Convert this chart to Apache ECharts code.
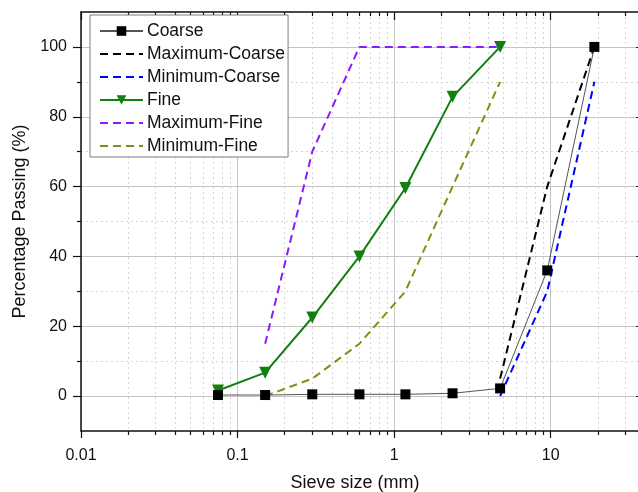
<!DOCTYPE html>
<html>
<head>
<meta charset="utf-8">
<title>Sieve analysis</title>
<script src="https://cdn.jsdelivr.net/npm/echarts@6/dist/echarts.min.js"></script>
<style>
  html, body { margin: 0; padding: 0; background: #fff; }
  #chart { width: 638px; height: 492px; }
</style>
</head>
<body>
<div id="chart"></div>
<script>
// Gradation data: sieve opening (mm) against percentage passing
const sieveCoarse = [0.075, 0.15, 0.3, 0.6, 1.18, 2.36, 4.75, 9.5, 19];
const coarse      = [0.3, 0.3, 0.5, 0.5, 0.5, 0.8, 2.2, 36, 100];

const sieveCoarseLimits = [4.75, 9.5, 19];
const maxCoarse = [5, 60, 100];
const minCoarse = [0, 30, 90];

const sieveFine = [0.075, 0.15, 0.3, 0.6, 1.18, 2.36, 4.75];
const fine      = [1.6, 6.7, 22.5, 40, 59.6, 85.7, 100];

const sieveFineLimits = [0.15, 0.3, 0.6, 1.18, 2.36, 4.75];
const maxFine = [15, 70, 100, 100, 100, 100];
const minFine = [0, 5, 15, 30, 60, 90];

// Axis ticks
const xMajorTicks = [0.01, 0.1, 1, 10];
const xMinorTicks = [0.02, 0.03, 0.04, 0.05, 0.06, 0.07, 0.08, 0.09,
                     0.2, 0.3, 0.4, 0.5, 0.6, 0.7, 0.8, 0.9,
                     2, 3, 4, 5, 6, 7, 8, 9, 20, 30];
const yMajorTicks = [0, 20, 40, 60, 80, 100];
const yMinorTicks = [10, 30, 50, 70, 90];

const FONT = '"Liberation Sans", Arial, sans-serif';
const X_MIN = 0.01, X_MAX = 40, Y_MIN = -10, Y_MAX = 110;

const zip = (xs, ys) => xs.map((x, i) => [x, ys[i]]);

const majorGrid = { show: true, lineStyle: { color: '#c4c4c4', width: 1, type: 'solid' } };
const minorGrid = { show: true, lineStyle: { color: '#d6d6d6', width: 1, type: [2, 3] } };
const frameLine = { show: true, onZero: false, lineStyle: { color: '#111', width: 1.5 } };
const hiddenLine = { show: false, onZero: false };

function xAxisDef(position, ticks, tickLen, inside, opts) {
  return Object.assign({
    type: 'log', logBase: 10, min: X_MIN, max: X_MAX, gridIndex: 0,
    position: position, offset: 0,
    axisLine: hiddenLine,
    axisTick: { show: true, customValues: ticks, length: tickLen, inside: inside,
                lineStyle: { color: '#111', width: 1.2 } },
    axisLabel: { show: false },
    splitLine: { show: false }
  }, opts || {});
}

function yAxisDef(position, ticks, tickLen, inside, opts) {
  return Object.assign({
    type: 'value', min: Y_MIN, max: Y_MAX, gridIndex: 0,
    position: position, offset: 0,
    axisLine: hiddenLine,
    axisTick: { show: true, customValues: ticks, length: tickLen, inside: inside,
                lineStyle: { color: '#111', width: 1.2 } },
    axisLabel: { show: false },
    splitLine: { show: false }
  }, opts || {});
}

const chart = echarts.init(document.getElementById('chart'), null, { renderer: 'canvas' });

const dashed = [8, 5];
// legend entries for the limit curves show only the dashed stroke
const noMarker = { color: 'rgba(0,0,0,0)', borderColor: 'rgba(0,0,0,0)', borderWidth: 0 };

chart.setOption({
  animation: false,
  backgroundColor: '#ffffff',
  textStyle: { fontFamily: FONT },
  grid: { left: 81, right: -7, top: 12, bottom: 61, containLabel: false, outerBoundsMode: 'none' },
  xAxis: [
    xAxisDef('bottom', xMajorTicks, 7, false, {
      axisLine: frameLine,
      axisLabel: { show: true, customValues: xMajorTicks, margin: 17,
                   color: '#111', fontSize: 16, fontFamily: FONT,
                   formatter: v => String(v) },
      splitLine: majorGrid,
      name: 'Sieve size (mm)', nameLocation: 'middle', nameGap: 43,
      nameTextStyle: { fontSize: 18, color: '#111', fontFamily: FONT, padding: [0, 16, 0, 0] }
    }),
    xAxisDef('bottom', xMinorTicks, 4, false, { splitLine: minorGrid }),
    xAxisDef('top', xMajorTicks, 8, true, { axisLine: frameLine }),
    xAxisDef('top', xMinorTicks, 4, true)
  ],
  yAxis: [
    yAxisDef('left', yMajorTicks, 8, false, {
      axisLine: frameLine,
      axisLabel: { show: true, customValues: yMajorTicks, margin: 14,
                   color: '#111', fontSize: 16, fontFamily: FONT },
      splitLine: majorGrid,
      name: 'Percentage Passing (%)', nameLocation: 'middle', nameGap: 50,
      nameTextStyle: { fontSize: 18, color: '#111', fontFamily: FONT }
    }),
    yAxisDef('left', yMinorTicks, 4, false, { splitLine: minorGrid }),
    yAxisDef('right', yMajorTicks, 9, true, { axisLine: frameLine }),
    yAxisDef('right', yMinorTicks, 5, true)
  ],
  legend: {
    orient: 'vertical', left: 90, top: 15,
    padding: [7, 3, 2, 9],
    itemGap: 5, itemWidth: 43, itemHeight: 12,
    backgroundColor: '#ffffff',
    borderColor: '#7d7d7d', borderWidth: 1, borderRadius: 0,
    textStyle: { fontSize: 17.5, color: '#111', fontFamily: FONT, lineHeight: 17, padding: [0, 0, 0, -1] },
    data: [
      { name: 'Coarse' },
      { name: 'Maximum-Coarse', itemStyle: noMarker },
      { name: 'Minimum-Coarse', itemStyle: noMarker },
      { name: 'Fine' },
      { name: 'Maximum-Fine', itemStyle: noMarker },
      { name: 'Minimum-Fine', itemStyle: noMarker }
    ]
  },
  series: [
    {
      name: 'Coarse', type: 'line', xAxisIndex: 0, yAxisIndex: 0,
      data: zip(sieveCoarse, coarse),
      symbol: 'rect', symbolSize: 10, z: 5,
      lineStyle: { color: '#555555', width: 1 },
      itemStyle: { color: '#000000' }
    },
    {
      name: 'Maximum-Coarse', type: 'line', xAxisIndex: 0, yAxisIndex: 0,
      data: zip(sieveCoarseLimits, maxCoarse),
      showSymbol: false, symbol: 'none', z: 3,
      lineStyle: { color: '#000000', width: 2, type: dashed },
      itemStyle: { color: '#000000' }
    },
    {
      name: 'Minimum-Coarse', type: 'line', xAxisIndex: 0, yAxisIndex: 0,
      data: zip(sieveCoarseLimits, minCoarse),
      showSymbol: false, symbol: 'none', z: 3,
      lineStyle: { color: '#0000ff', width: 2, type: dashed },
      itemStyle: { color: '#0000ff' }
    },
    {
      name: 'Fine', type: 'line', xAxisIndex: 0, yAxisIndex: 0,
      data: zip(sieveFine, fine),
      symbol: 'triangle', symbolRotate: 180, symbolSize: 12, z: 4,
      lineStyle: { color: '#118011', width: 2 },
      itemStyle: { color: '#118011' }
    },
    {
      name: 'Maximum-Fine', type: 'line', xAxisIndex: 0, yAxisIndex: 0,
      data: zip(sieveFineLimits, maxFine),
      showSymbol: false, symbol: 'none', z: 3,
      lineStyle: { color: '#8a1bff', width: 2, type: dashed },
      itemStyle: { color: '#8a1bff' }
    },
    {
      name: 'Minimum-Fine', type: 'line', xAxisIndex: 0, yAxisIndex: 0,
      data: zip(sieveFineLimits, minFine),
      showSymbol: false, symbol: 'none', z: 3,
      lineStyle: { color: '#8c8c14', width: 2, type: dashed },
      itemStyle: { color: '#8c8c14' }
    }
  ]
});
</script>
</body>
</html>
